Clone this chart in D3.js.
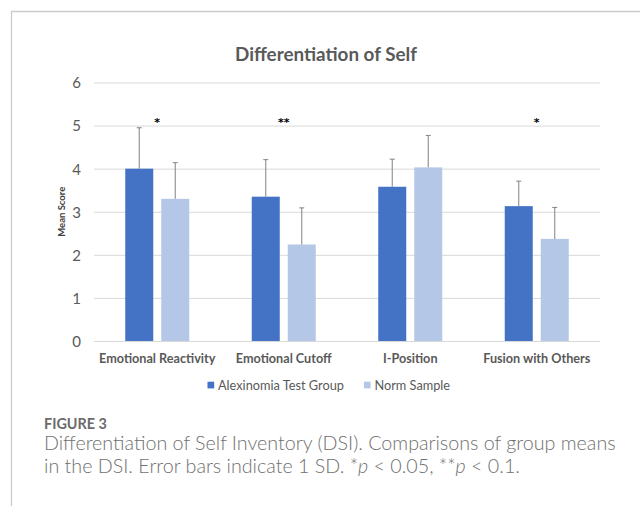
<!DOCTYPE html>
<html>
<head>
<meta charset="utf-8">
<script src="https://cdn.jsdelivr.net/npm/d3@7"></script>
<style>
  html, body { margin: 0; padding: 0; background: #fff; }
  svg { display: block; }
</style>
</head>
<body>
<svg id="chart" width="640" height="506"></svg>
<script>
// ---- data ----
const categories = ["Emotional Reactivity", "Emotional Cutoff", "I-Position", "Fusion with Others"];
const seriesNames = ["Alexinomia Test Group", "Norm Sample"];
const alexMeans = [4.00, 3.35, 3.58, 3.13];
const alexSD    = [0.95, 0.86, 0.64, 0.58];
const normMeans = [3.30, 2.24, 4.03, 2.37];
const normSD    = [0.84, 0.85, 0.74, 0.73];
const sigMarks  = ["*", "**", "", "*"];
const yTicks    = [0, 1, 2, 3, 4, 5, 6];
const chartTitle = "Differentiation of Self";
const yTitle = "Mean Score";
const figLabel = "FIGURE 3";

const colors = ["#4472c4", "#b4c7e7"];
const grey = "#595959";
const chartFont = "Lato, 'Open Sans', sans-serif";
const capFont = "Lato, 'Open Sans', sans-serif";

const svg = d3.select("#chart");

function fitWidth(sel, target) {
  const w = sel.node().getComputedTextLength();
  const fs = parseFloat(sel.attr("font-size"));
  const nfs = fs * target / w;
  sel.attr("font-size", nfs);
  return nfs;
}

// frame (top and left rules)
svg.append("line").attr("x1", 11).attr("x2", 640).attr("y1", 11.5).attr("y2", 11.5)
  .attr("stroke", "#cccccc").attr("stroke-width", 1.3);
svg.append("line").attr("x1", 11.5).attr("x2", 11.5).attr("y1", 11).attr("y2", 506)
  .attr("stroke", "#cccccc").attr("stroke-width", 1.3);

// scales
const y = d3.scaleLinear().domain([0, 6]).range([341, 82.5]);
const x0 = d3.scaleBand().domain(categories).range([94, 600]).paddingInner(0.494).paddingOuter(0.247);
const x1 = d3.scaleBand().domain(seriesNames).range([0, x0.bandwidth()]).paddingInner(0.222);

// grid
const yAxis = d3.axisLeft(y).tickValues(yTicks).tickSize(-(600 - 94)).tickPadding(13).tickFormat(d3.format("d"));
const gAxis = svg.append("g").attr("transform", "translate(94,0)").call(yAxis);
gAxis.select(".domain").remove();
gAxis.selectAll(".tick line").attr("stroke", "#d9d9d9").attr("stroke-width", 1);
gAxis.selectAll(".tick text").attr("fill", grey).attr("font-family", chartFont)
  .attr("font-size", 15).attr("dy", "0.36em");

// y title
svg.append("text").attr("transform", `translate(65,${(y(0) + y(6)) / 2}) rotate(-90)`)
  .attr("text-anchor", "middle").attr("font-family", chartFont).attr("font-weight", 700)
  .attr("font-size", 9.5).attr("fill", "#404040").text(yTitle);

// title
const t = svg.append("text").attr("x", 326).attr("y", 60.5).attr("text-anchor", "middle")
  .attr("font-family", chartFont).attr("font-weight", 700).attr("font-size", 20)
  .attr("fill", grey).text(chartTitle);
fitWidth(t, 182);

// bars
const rows = categories.map((c, i) => ({
  cat: c,
  vals: [
    { s: seriesNames[0], m: alexMeans[i], sd: alexSD[i], col: colors[0] },
    { s: seriesNames[1], m: normMeans[i], sd: normSD[i], col: colors[1] }
  ]
}));

const groups = svg.append("g").selectAll("g").data(rows).join("g")
  .attr("transform", d => `translate(${x0(d.cat)},0)`);

groups.selectAll("rect").data(d => d.vals).join("rect")
  .attr("x", d => x1(d.s)).attr("width", x1.bandwidth())
  .attr("y", d => y(d.m)).attr("height", d => y(0) - y(d.m))
  .attr("fill", d => d.col);

// error bars (plus direction)
const eb = groups.selectAll("g.eb").data(d => d.vals).join("g").attr("class", "eb");
eb.append("line")
  .attr("x1", d => x1(d.s) + x1.bandwidth() / 2).attr("x2", d => x1(d.s) + x1.bandwidth() / 2)
  .attr("y1", d => y(d.m)).attr("y2", d => y(d.m + d.sd))
  .attr("stroke", "#8c8c8c").attr("stroke-width", 1.1);
eb.append("line")
  .attr("x1", d => x1(d.s) + x1.bandwidth() / 2 - 2.5).attr("x2", d => x1(d.s) + x1.bandwidth() / 2 + 2.5)
  .attr("y1", d => y(d.m + d.sd)).attr("y2", d => y(d.m + d.sd))
  .attr("stroke", "#8c8c8c").attr("stroke-width", 1.1);

// significance marks
svg.append("g").selectAll("text").data(categories).join("text")
  .attr("x", d => x0(d) + x0.bandwidth() / 2).attr("y", y(5) + 0.5)
  .attr("text-anchor", "middle").attr("font-family", "'DejaVu Sans', sans-serif").attr("font-weight", 700)
  .attr("font-size", 11).attr("fill", "#000")
  .text((d, i) => sigMarks[i]);

// x labels
const xl = svg.append("g").selectAll("text").data(categories).join("text")
  .attr("x", d => x0(d) + x0.bandwidth() / 2).attr("y", 362.5)
  .attr("text-anchor", "middle").attr("font-family", chartFont).attr("font-weight", 700)
  .attr("font-size", 13).attr("fill", grey).text(d => d);
const xfs = fitWidth(d3.select(xl.nodes()[0]), 116.5);
xl.attr("font-size", xfs);

// legend
const leg = svg.append("g");
const items = leg.selectAll("g").data(seriesNames).join("g");
items.append("rect").attr("width", 6.7).attr("height", 6.7).attr("y", 381.7)
  .attr("fill", (d, i) => colors[i]);
const lt = items.append("text").attr("y", 389.5).attr("font-family", chartFont)
  .attr("font-size", 13).attr("fill", grey).text(d => d);
const lfs = fitWidth(d3.select(lt.nodes()[0]), 126);
lt.attr("font-size", lfs);
const widths = lt.nodes().map(n => n.getComputedTextLength());
let cx = 329 - (6.7 + 4 + widths[0] + 20 + 6.7 + 4 + widths[1]) / 2;
items.each(function (d, i) {
  const g = d3.select(this);
  g.select("rect").attr("x", cx);
  g.select("text").attr("x", cx + 10.5);
  cx += 10.5 + widths[i] + 20;
});

// caption
const fl = svg.append("text").attr("x", 44).attr("y", 428.5).attr("font-family", capFont)
  .attr("font-weight", 700).attr("font-size", 12.5).attr("fill", "#6b6b6b").text(figLabel);
fitWidth(fl, 63);

const cap1 = svg.append("text").attr("x", 44).attr("y", 449.5).attr("font-family", capFont)
  .attr("font-weight", 300).attr("font-size", 17).attr("fill", "#707070")
  .text("Differentiation of Self Inventory (DSI). Comparisons of group means");
const cfs = fitWidth(cap1, 572);
const cap2 = svg.append("text").attr("x", 44).attr("y", 472.5).attr("font-family", capFont)
  .attr("font-weight", 300).attr("font-size", cfs).attr("fill", "#707070");
cap2.append("tspan").text("in the DSI. Error bars indicate 1 SD. *");
cap2.append("tspan").attr("font-style", "italic").text("p");
cap2.append("tspan").text(" < 0.05, **");
cap2.append("tspan").attr("font-style", "italic").text("p");
cap2.append("tspan").text(" < 0.1.");
</script>
</body>
</html>
